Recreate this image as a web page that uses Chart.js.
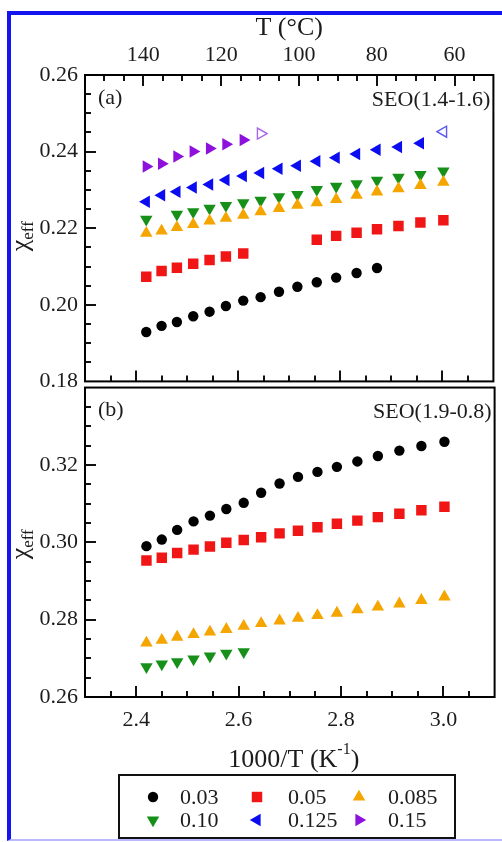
<!DOCTYPE html>
<html>
<head>
<meta charset="utf-8">
<script src="https://cdn.jsdelivr.net/npm/chart.js@4/dist/chart.umd.min.js"></script>
<style>
  html, body { margin: 0; padding: 0; background: #fff; }
  body { width: 502px; height: 842px; position: relative; overflow: hidden; }
  #frame { position: absolute; left: 7px; top: 11px; width: 500px; height: 830px; box-sizing: border-box;
           border-left: 4px solid #1414f0; border-top: 4px solid #1414f0; border-bottom: 2px solid #b8bcff; }
  #cA { position: absolute; left: 0; top: 0; }
  #cB { position: absolute; left: 0; top: 380px; }
</style>
</head>
<body>
<div id="frame"></div>
<canvas id="cA" width="502" height="390"></canvas>
<canvas id="cB" width="502" height="462"></canvas>
<script>
// ---- data ----------------------------------------------------------------
// 1000/T (K^-1) for the measured temperatures, 140 °C down to 60 °C in 5 °C steps
const invT = [2.420, 2.450, 2.480, 2.512, 2.544, 2.576, 2.610, 2.644, 2.680,
              2.716, 2.754, 2.792, 2.832, 2.872, 2.914, 2.957, 3.002];

// tick labels
const tempTicks = [140, 120, 100, 80, 60];
const invTTicks = [2.4, 2.6, 2.8, 3.0];
const chiTicksA = [0.18, 0.20, 0.22, 0.24, 0.26];
const chiTicksB = [0.26, 0.28, 0.30, 0.32];

// series names (legend)
const seriesNames = ['0.03', '0.05', '0.085', '0.10', '0.125', '0.15'];

// (a) SEO(1.4-1.6): chi_eff, aligned with invT (null = not measured)
const a003  = [0.1929, 0.1945, 0.1955, 0.1970, 0.1982, 0.1997, 0.2011, 0.2020, 0.2034, 0.2047, 0.2059, 0.2071, 0.2083, 0.2096, null, null, null];
const a005  = [0.2073, 0.2088, 0.2097, 0.2107, 0.2117, 0.2126, 0.2134, null, null, null, 0.2170, 0.2180, 0.2188, 0.2197, 0.2206, 0.2215, 0.2221];
const a0085 = [0.2187, 0.2193, 0.2202, 0.2210, 0.2219, 0.2226, 0.2234, 0.2243, 0.2252, 0.2260, 0.2267, 0.2275, 0.2286, 0.2295, 0.2303, 0.2312, 0.2320];
const a010  = [0.2223, null, 0.2236, 0.2243, 0.2252, 0.2259, 0.2266, 0.2273, 0.2282, 0.2288, 0.2301, 0.2309, 0.2316, 0.2325, 0.2333, 0.2340, 0.2349];
const a0125 = [0.2269, 0.2286, 0.2295, 0.2306, 0.2314, 0.2326, 0.2336, 0.2344, 0.2355, 0.2363, 0.2375, 0.2384, 0.2394, 0.2405, 0.2412, 0.2422, null];
const a015  = [0.2361, 0.2368, 0.2387, 0.2400, 0.2408, 0.2419, 0.2430, null, null, null, null, null, null, null, null, null, null];
// open symbols
const a0125Open = [null, null, null, null, null, null, null, null, null, null, null, null, null, null, null, null, 0.2452];
const a015Open  = [null, null, null, null, null, null, null, 0.2447, null, null, null, null, null, null, null, null, null];

// (b) SEO(1.9-0.8)
const b003  = [0.2990, 0.3007, 0.3032, 0.3054, 0.3069, 0.3086, 0.3102, 0.3128, 0.3152, 0.3169, 0.3182, 0.3195, 0.3209, 0.3223, 0.3237, 0.3249, 0.3260];
const b005  = [0.2953, 0.2960, 0.2972, 0.2981, 0.2989, 0.2999, 0.3006, 0.3013, 0.3023, 0.3030, 0.3039, 0.3048, 0.3056, 0.3065, 0.3074, 0.3083, 0.3092];
const b0085 = [0.2740, 0.2747, 0.2755, 0.2762, 0.2768, 0.2775, 0.2783, 0.2790, 0.2797, 0.2804, 0.2811, 0.2817, 0.2826, 0.2833, 0.2841, 0.2850, 0.2859];
const b010  = [0.2678, 0.2685, 0.2691, 0.2698, 0.2706, 0.2713, 0.2717, null, null, null, null, null, null, null, null, null, null];

// ---- styles ----------------------------------------------------------------
const FONT = "'Liberation Serif', 'Times New Roman', serif";
const INK = '#1c1c1c';
const markers = {
  '0.03':  { color: '#000000', pointStyle: 'circle',   radius: 5.2, rotation: 0 },
  '0.05':  { color: '#f01616', pointStyle: 'rect',     radius: 7.4, rotation: 0 },
  '0.085': { color: '#f5a500', pointStyle: 'triangle', radius: 7.2, rotation: 0 },
  '0.10':  { color: '#17901a', pointStyle: 'triangle', radius: 7.2, rotation: 180 },
  '0.125': { color: '#0c0cf0', pointStyle: 'triangle', radius: 7.2, rotation: 270 },
  '0.15':  { color: '#8e10dc', pointStyle: 'triangle', radius: 7.2, rotation: 90 }
};
const openEdge = { '0.125': '#5a5af2', '0.15': '#a868e8' };

function points(vals) {
  return invT.map((x, i) => (vals[i] == null ? null : { x: x, y: vals[i] })).filter(Boolean);
}
function dataset(name, vals, open) {
  const m = markers[name];
  return {
    label: open ? name + ' (open)' : name,
    data: points(vals),
    showLine: false,
    pointStyle: m.pointStyle,
    pointRotation: m.rotation,
    pointRadius: open ? m.radius - 0.8 : m.radius,
    pointHoverRadius: m.radius,
    pointBackgroundColor: open ? 'rgba(255,255,255,0)' : m.color,
    pointBorderColor: open ? openEdge[name] : m.color,
    pointBorderWidth: open ? 1.4 : 0
  };
}

// ---- decorations: frame, inward ticks, titles, panel labels, legend ----
function drawChi(ctx, cx, cy) {
  ctx.save();
  ctx.translate(cx, cy);
  ctx.rotate(-Math.PI / 2);
  ctx.fillStyle = INK;
  ctx.textBaseline = 'alphabetic';
  ctx.font = '26px ' + FONT;
  const w1 = ctx.measureText('\u03c7').width;
  ctx.font = '17px ' + FONT;
  const w2 = ctx.measureText('eff').width;
  const x0 = -(w1 + w2) / 2;
  ctx.font = '26px ' + FONT;
  ctx.fillText('\u03c7', x0, 6);
  ctx.font = '17px ' + FONT;
  ctx.fillText('eff', x0 + w1, 11);
  ctx.restore();
}

function inwardTicks(chart, opts) {
  const ctx = chart.ctx, a = chart.chartArea;
  const xs = chart.scales.x, ys = chart.scales.y;
  ctx.save();
  ctx.strokeStyle = '#111';
  ctx.lineWidth = 2;
  ctx.beginPath();
  // left axis: minor every 0.005, major every 0.02
  const k0 = Math.round(ys.min / 0.005), k1 = Math.round(ys.max / 0.005);
  for (let k = k0 + 1; k < k1; k++) {
    const y = Math.round(ys.getPixelForValue(k * 0.005));
    const len = (k % 4 === 0) ? 11 : 6;
    ctx.moveTo(a.left, y); ctx.lineTo(a.left + len, y);
  }
  // bottom axis: minor every 0.05, major every 0.2
  for (let k = 47; k <= 61; k++) {
    const x = Math.round(xs.getPixelForValue(k * 0.05));
    const len = (k % 4 === 0) ? 11 : 6;
    ctx.moveTo(x, a.bottom); ctx.lineTo(x, a.bottom - len);
  }
  // top temperature axis (panel a only): minor every 5 °C, major every 20 °C
  if (opts.topAxis) {
    const ts = chart.scales.t;
    for (let T = 55; T <= 150; T += 5) {
      const x = Math.round(ts.getPixelForValue(T));
      const len = (T % 20 === 0) ? 11 : 6;
      ctx.moveTo(x, a.top); ctx.lineTo(x, a.top + len);
    }
  }
  ctx.stroke();
  // plot frame
  ctx.strokeStyle = '#000';
  ctx.strokeRect(a.left, a.top, a.right - a.left, a.bottom - a.top);
  ctx.restore();
}

function panelText(ctx, a, tag, name, dy) {
  ctx.save();
  ctx.fillStyle = INK;
  ctx.font = '22px ' + FONT;
  ctx.textBaseline = 'middle';
  ctx.textAlign = 'left';
  ctx.fillText(tag, a.left + 13, a.top + dy);
  ctx.textAlign = 'right';
  ctx.fillText(name, a.right - 3, a.top + dy + 2);
  ctx.restore();
}

function marker(ctx, name, x, y) {
  const m = markers[name];
  ctx.save();
  ctx.fillStyle = m.color;
  ctx.strokeStyle = m.color;
  const o = { pointStyle: m.pointStyle, radius: m.radius, rotation: m.rotation, borderWidth: 0 };
  if (Chart.helpers && Chart.helpers.drawPoint) {
    Chart.helpers.drawPoint(ctx, o, x, y);
  } else {
    ctx.beginPath();
    if (m.pointStyle === 'circle') {
      ctx.arc(x, y, m.radius, 0, Math.PI * 2);
    } else if (m.pointStyle === 'rect') {
      const s = Math.SQRT1_2 * m.radius;
      ctx.rect(x - s, y - s, 2 * s, 2 * s);
    } else {
      let r = m.rotation * Math.PI / 180;
      for (let i = 0; i < 3; i++) {
        const px = x + Math.sin(r) * m.radius, py = y - Math.cos(r) * m.radius;
        if (i === 0) ctx.moveTo(px, py); else ctx.lineTo(px, py);
        r += 2 * Math.PI / 3;
      }
      ctx.closePath();
    }
    ctx.fill();
  }
  ctx.restore();
}

const decorA = {
  id: 'decorA',
  afterDraw(chart) {
    const ctx = chart.ctx, a = chart.chartArea;
    inwardTicks(chart, { topAxis: true });
    panelText(ctx, a, '(a)', 'SEO(1.4-1.6)', 23);
    // top axis title
    ctx.save();
    ctx.fillStyle = INK;
    ctx.font = '26px ' + FONT;
    ctx.textAlign = 'center';
    ctx.textBaseline = 'middle';
    ctx.fillText('T (\u00b0C)', (a.left + a.right) / 2, 28);
    ctx.restore();
    drawChi(ctx, 22, (a.top + a.bottom) / 2 + 8);
  }
};

const decorB = {
  id: 'decorB',
  afterDraw(chart) {
    const ctx = chart.ctx, a = chart.chartArea;
    inwardTicks(chart, { topAxis: false });
    panelText(ctx, a, '(b)', 'SEO(1.9-0.8)', 23);
    drawChi(ctx, 22, (a.top + a.bottom) / 2 + 2);

    // x-axis title with superscript
    ctx.save();
    ctx.fillStyle = INK;
    ctx.textBaseline = 'alphabetic';
    const big = '26px ' + FONT, small = '16px ' + FONT;
    ctx.font = big;
    const p1 = '1000/T (K', p3 = ')';
    const w1 = ctx.measureText(p1).width, w3 = ctx.measureText(p3).width;
    ctx.font = small;
    const w2 = ctx.measureText('-1').width;
    let x = (a.left + a.right) / 2 - (w1 + w2 + w3) / 2 + 4;
    const base = a.bottom + 70;
    ctx.font = big;  ctx.fillText(p1, x, base); x += w1;
    ctx.font = small; ctx.fillText('-1', x, base - 13); x += w2;
    ctx.font = big;  ctx.fillText(p3, x, base);
    ctx.restore();

    // legend box
    const top = a.bottom + 78, bottom = a.bottom + 141;
    const left = 119, right = 455;
    ctx.save();
    ctx.strokeStyle = '#111';
    ctx.lineWidth = 2;
    ctx.strokeRect(left, top, right - left, bottom - top);
    const cols = [[153, 180], [257, 288], [359, 388]];
    const rows = [top + 22, top + 45];
    ctx.font = '22px ' + FONT;
    ctx.textBaseline = 'middle';
    ctx.textAlign = 'left';
    seriesNames.forEach((name, i) => {
      const c = cols[i % 3], y = rows[Math.floor(i / 3)];
      marker(ctx, name, c[0], y);
      ctx.fillStyle = INK;
      ctx.fillText(name, c[1], y + 1);
    });
    ctx.restore();
  }
};

// ---- shared axis options ---------------------------------------------------
// the tiny lineHeight keeps the end labels from shrinking the plot area
const yTickFont = { family: FONT, size: 22, lineHeight: 0.05 };
const xTickFont = { family: FONT, size: 22 };
function chiAxis(min, max, ticks) {
  return {
    type: 'linear', position: 'left', min: min, max: max,
    afterBuildTicks: s => { s.ticks = ticks.map(v => ({ value: v })); },
    afterFit: s => { s.width = 85; },
    ticks: { font: yTickFont, color: INK, padding: 7, autoSkip: false, callback: v => v.toFixed(2) },
    grid: { display: false, drawTicks: false },
    border: { display: false }
  };
}
const baseOpts = {
  responsive: false,
  animation: false,
  devicePixelRatio: 1,
  plugins: { legend: { display: false }, tooltip: { enabled: false } }
};

// ---- panel (a) ---------------------------------------------------------------
new Chart(document.getElementById('cA'), {
  type: 'scatter',
  data: {
    datasets: [
      dataset('0.03', a003), dataset('0.05', a005), dataset('0.085', a0085),
      dataset('0.10', a010), dataset('0.125', a0125), dataset('0.15', a015),
      dataset('0.125', a0125Open, true), dataset('0.15', a015Open, true)
    ]
  },
  options: Object.assign({}, baseOpts, {
    layout: { padding: { top: 0, left: 0, right: 3, bottom: 5 } },
    scales: {
      x: { type: 'linear', min: 2.3, max: 3.1, display: false },
      t: {
        type: 'linear', position: 'top', reverse: true, min: 50, max: 155,
        afterBuildTicks: s => { s.ticks = tempTicks.map(v => ({ value: v })); },
        afterFit: s => { s.height = 75; },
        ticks: { font: xTickFont, color: INK, padding: 7, autoSkip: false, maxRotation: 0, callback: v => String(v) },
        grid: { display: false, drawTicks: false },
        border: { display: false }
      },
      y: chiAxis(0.18, 0.26, chiTicksA)
    }
  }),
  plugins: [decorA]
});

// ---- panel (b) ---------------------------------------------------------------
new Chart(document.getElementById('cB'), {
  type: 'scatter',
  data: {
    datasets: [
      dataset('0.03', b003), dataset('0.05', b005),
      dataset('0.085', b0085), dataset('0.10', b010)
    ]
  },
  options: Object.assign({}, baseOpts, {
    layout: { padding: { top: 5, left: 0, right: 3, bottom: 0 } },
    scales: {
      x: {
        type: 'linear', position: 'bottom', min: 2.3, max: 3.1,
        afterBuildTicks: s => { s.ticks = invTTicks.map(v => ({ value: v })); },
        afterFit: s => { s.height = 145; },
        ticks: { font: xTickFont, color: INK, padding: 10, autoSkip: false, maxRotation: 0, callback: v => v.toFixed(1) },
        grid: { display: false, drawTicks: false },
        border: { display: false }
      },
      y: chiAxis(0.26, 0.34, chiTicksB)
    }
  }),
  plugins: [decorB]
});
</script>
</body>
</html>
